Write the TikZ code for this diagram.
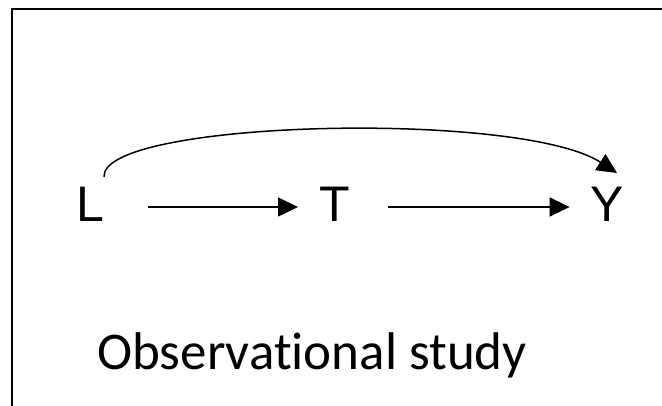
\documentclass[tikz,border=0pt]{standalone}
\usepackage{fontspec}
\setmainfont{Liberation Sans}
\newfontfamily\capfont[Ligatures=NoCommon]{Carlito}
\usetikzlibrary{arrows.meta}
\begin{document}
\begin{tikzpicture}[x=1pt,y=-1pt,
  var/.style={inner sep=0pt, font=\fontsize{50}{50}\selectfont},
  conn/.style={line width=1.5pt, -{Triangle[length=20pt,width=19pt]}},
  frame/.style={line width=2.5pt}]
\useasboundingbox (0,0) rectangle (662,406);
\draw[frame] (12,412) -- (12,9) -- (668,9);
\node[var] (L) at (90,204) {L};
\node[var] (T) at (334.5,204) {T};
\node[var] (Y) at (607.5,204) {Y};
\node[inner sep=0pt, anchor=base west, font=\capfont\fontsize{53}{53}\selectfont] (cap) at (97,370) {Observational study};
\draw[conn, shorten <=44pt, shorten >=21pt] ([yshift=-3pt]L.east) -- ([yshift=-3pt]T.west);
\draw[conn, shorten <=38pt, shorten >=21pt] ([yshift=-3pt]T.east) -- ([yshift=-3pt]Y.west);
\coordinate (cs) at (104,177);
\coordinate (ce) at (617,173);
\draw[conn] (cs) .. controls (100,120) and (520,110) .. (ce);
\end{tikzpicture}
\end{document}
